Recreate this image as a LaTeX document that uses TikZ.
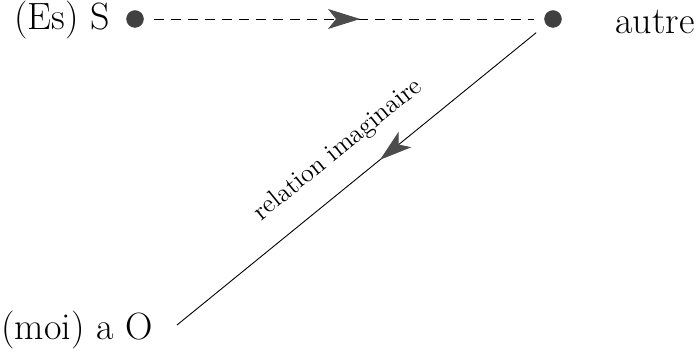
\documentclass[tikz,border=0pt]{standalone}
\usetikzlibrary{arrows.meta,decorations.markings}
\begin{document}
\begin{tikzpicture}[
	x=0.5pt, y=-0.5pt,
	vertex/.style={ circle, draw, very thin, fill, black!75, inner sep=0pt, minimum size=8.5pt },
	tag/.style={ font=\fontsize{19}{23}\selectfont, inner sep=0pt },
	midarrow/.style={ postaction={decorate}, decoration={markings,
	  mark=at position #1 with {\arrow{Stealth[length=16pt,width=10pt,inset=4pt,color=black!70,fill=black!70]}}} }
]

\useasboundingbox (0,0) rectangle (697,356);
\node at (135,19) (s) [vertex] {};
\node at (553,19) (autre) [vertex] {};
\node at (62,20) (es) [tag] {(Es) S};
\node at (655,22) (autretext) [tag] {autre};
\node at (77,330) (moi) [tag] {(moi) a O};
\coordinate (o) at (177,325);
\draw[dashed,dash pattern=on 5pt off 3.5pt,line width=0.4pt,shorten <=5pt,shorten >=5pt,midarrow=0.54]
  (s) -- (autre);
\draw[line width=0.45pt,shorten <=6.5pt,midarrow=0.45] (autre) -- (o)
  node[pos=0.505,sloped,above=7.5pt,font=\fontsize{13}{15}\selectfont] {relation imaginaire};

\end{tikzpicture}
\end{document}
